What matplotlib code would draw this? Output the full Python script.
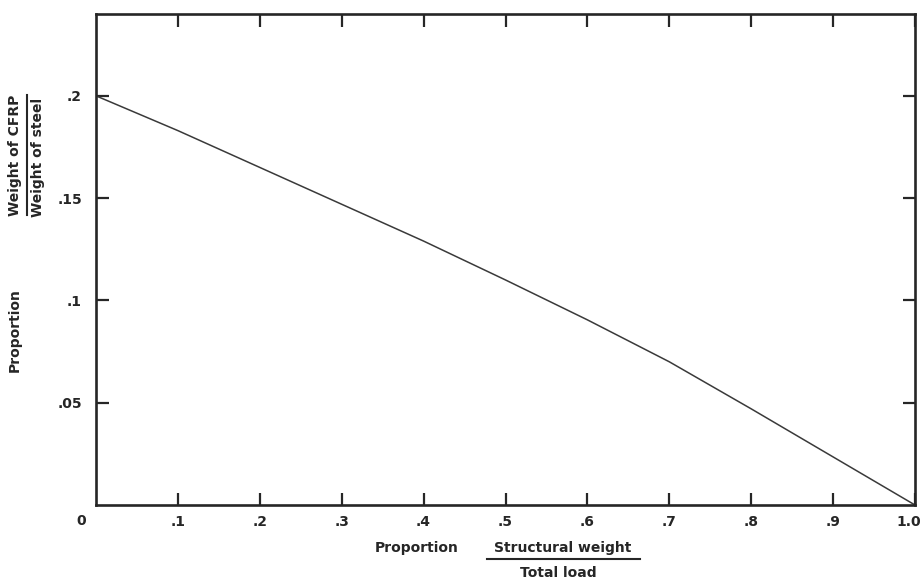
import matplotlib
matplotlib.use("Agg")
import matplotlib.pyplot as plt
from matplotlib.lines import Line2D
from matplotlib.transforms import ScaledTranslation

# Weight ratio of CFRP to steel against the structural-weight share of total load
structural_share = [0.0, 0.1, 0.2, 0.3, 0.4, 0.5, 0.6, 0.7, 0.8, 0.9, 1.0]
weight_ratio = [0.200, 0.183, 0.165, 0.147, 0.129, 0.110, 0.0905, 0.070, 0.047, 0.0235, 0.0]

x_ticks = [0.1, 0.2, 0.3, 0.4, 0.5, 0.6, 0.7, 0.8, 0.9, 1.0]
x_tick_labels = [".1", ".2", ".3", ".4", ".5", ".6", ".7", ".8", ".9", "1.0"]
y_ticks = [0.05, 0.1, 0.15, 0.2]
y_tick_labels = [".05", ".1", ".15", ".2"]

INK = "#262626"
W, H = 922, 580

fig = plt.figure(figsize=(W / 100, H / 100), dpi=100)
ax = fig.add_axes([96 / W, 75 / H, 819 / W, 491 / H])

ax.plot(structural_share, weight_ratio, color="#3a3a3a", lw=1.1)

ax.set_xlim(0, 1.0)
ax.set_ylim(0, 0.24)
ax.set_xticks(x_ticks)
ax.set_xticklabels(x_tick_labels)
ax.set_yticks(y_ticks)
ax.set_yticklabels(y_tick_labels)

for s in ax.spines.values():
    s.set_linewidth(1.9)
    s.set_color(INK)

ax.tick_params(axis="both", which="major", direction="in", length=9,
               width=1.6, color=INK, labelcolor=INK, labelsize=10,
               top=True, right=True)
ax.tick_params(axis="x", pad=7)
ax.tick_params(axis="y", pad=10)
for lab in ax.get_xticklabels() + ax.get_yticklabels():
    lab.set_fontweight("bold")

# keep the last x label inside the figure edge
last = ax.get_xticklabels()[-1]
last.set_transform(last.get_transform() +
                   ScaledTranslation(-6 / 100, 0, fig.dpi_scale_trans))

# shared origin label
fig.text(81 / W, 1 - 521 / H, "0", ha="center", va="center",
         fontsize=10, fontweight="bold", color=INK)

lab_kw = dict(fontsize=10, fontweight="bold", color=INK)

# x-axis label written as a fraction
fig.text(375 / W, 1 - 548 / H, "Proportion", ha="left", va="center", **lab_kw)
fig.text(563 / W, 1 - 548 / H, "Structural weight", ha="center", va="center", **lab_kw)
fig.add_artist(Line2D([487 / W, 640 / W], [1 - 559 / H, 1 - 559 / H],
                      transform=fig.transFigure, color=INK, lw=1.5))
fig.text(558 / W, 1 - 573 / H, "Total load", ha="center", va="center", **lab_kw)

# y-axis label written as a fraction
fig.text(15 / W, 1 - 330 / H, "Proportion", ha="center", va="center",
         rotation=90, **lab_kw)
fig.text(15 / W, 1 - 155 / H, "Weight of CFRP", ha="center", va="center",
         rotation=90, **lab_kw)
fig.add_artist(Line2D([27 / W, 27 / W], [1 - 95 / H, 1 - 215 / H],
                      transform=fig.transFigure, color=INK, lw=1.5))
fig.text(38 / W, 1 - 157 / H, "Weight of steel", ha="center", va="center",
         rotation=90, **lab_kw)

fig.savefig("out.png", dpi=100, facecolor="white")
